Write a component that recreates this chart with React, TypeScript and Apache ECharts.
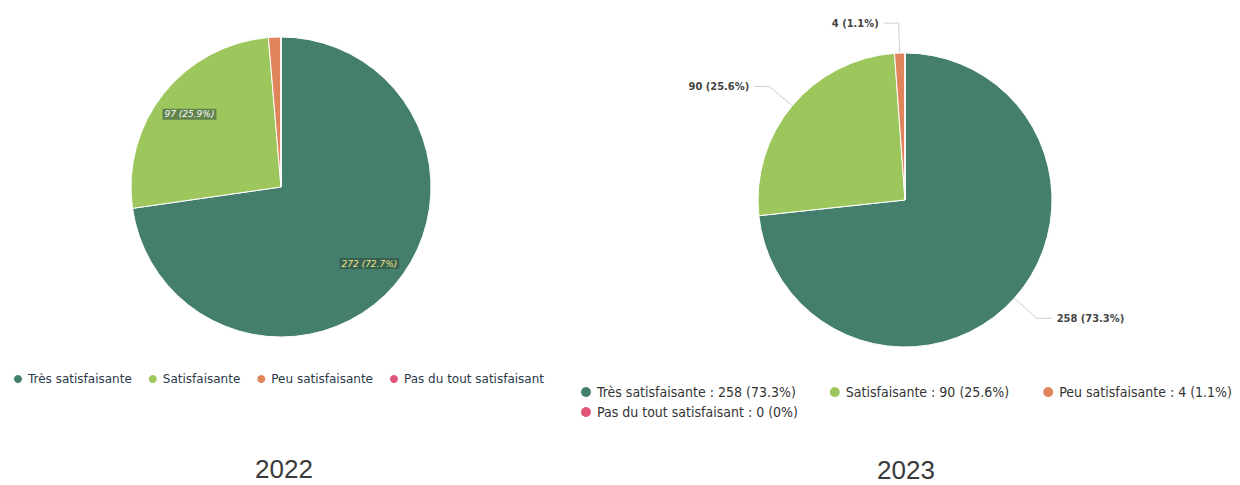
import React, { useEffect, useRef } from "react";
import * as echarts from "echarts";

const categories = ["Très satisfaisante", "Satisfaisante", "Peu satisfaisante", "Pas du tout satisfaisant"];
const values2022 = [272, 97, 5, 0];
const values2023 = [258, 90, 4, 0];
const years = ["2022", "2023"];
const colors = ["#437f6c", "#9dc65c", "#e0845c", "#e2537a"];

const total = (arr: number[]) => arr.reduce((a, b) => a + b, 0);
const pct = (v: number, arr: number[]) => (v === 0 ? "0" : ((v / total(arr)) * 100).toFixed(1));

export default function App() {
  const ref = useRef<HTMLDivElement>(null);
  useEffect(() => {
    if (!ref.current) return;
    const chart = echarts.init(ref.current, undefined, { renderer: "svg" });
    const data2022 = categories.map((name, i) => ({ name, value: values2022[i] }));
    const ghost2022 = categories.map((name, i) => ({
      name,
      value: values2022[i],
      label: {
        show: i < 2,
        color: i === 0 ? "#efe38a" : "#ffffff",
      },
    }));
    const data2023 = categories.map((name, i) => ({
      name,
      value: values2023[i],
      label: { show: values2023[i] > 0 },
      labelLine: { show: values2023[i] > 0 },
    }));
    const fmt2023 = (name: string) => {
      const i = categories.indexOf(name);
      return `${name} : ${values2023[i]} (${pct(values2023[i], values2023)}%)`;
    };
    chart.setOption({
      animation: false,
      color: colors,
      legend: [
        {
          left: 7,
          top: 368,
          icon: "circle",
          itemWidth: 10,
          itemHeight: 10,
          itemGap: 15,
          data: categories,
          textStyle: { fontSize: 12, color: "#2b3a4a", fontFamily: "DejaVu Sans" },
        },
        {
          left: 574,
          top: 380,
          icon: "circle",
          itemWidth: 12,
          itemHeight: 12,
          itemGap: 32,
          data: categories.slice(0, 3),
          formatter: fmt2023,
          textStyle: { fontSize: 14, color: "#333", fontFamily: "DejaVu Sans Condensed" },
        },
        {
          left: 574,
          top: 400,
          icon: "circle",
          itemWidth: 12,
          itemHeight: 12,
          data: categories.slice(3),
          formatter: fmt2023,
          textStyle: { fontSize: 14, color: "#333", fontFamily: "DejaVu Sans Condensed" },
        },
      ],
      graphic: [
        {
          type: "text",
          x: 284,
          y: 469,
          style: {
            text: years[0],
            textAlign: "center",
            textVerticalAlign: "middle",
            fontSize: 26,
            fill: "#3a3a3a",
            fontFamily: "Liberation Sans",
          },
        },
        {
          type: "text",
          x: 906,
          y: 470,
          style: {
            text: years[1],
            textAlign: "center",
            textVerticalAlign: "middle",
            fontSize: 26,
            fill: "#3a3a3a",
            fontFamily: "Liberation Sans",
          },
        },
      ],
      series: [
        {
          type: "pie",
          center: [281, 187],
          radius: [0, 150],
          startAngle: 90,
          label: { show: false },
          labelLine: { show: false },
          itemStyle: { borderColor: "#fff", borderWidth: 1 },
          data: data2022,
        },
        {
          type: "pie",
          center: [281, 187],
          radius: [0, 228],
          startAngle: 90,
          silent: true,
          legendHoverLink: false,
          itemStyle: { color: "rgba(0,0,0,0)" },
          label: {
            position: "inside",
            fontSize: 9,
            fontStyle: "italic",
            fontFamily: "DejaVu Sans",
            backgroundColor: "rgba(45,75,62,0.55)",
            padding: [1, 2],
            formatter: (p: any) => `${p.value} (${pct(p.value, values2022)}%)`,
          },
          labelLine: { show: false },
          data: ghost2022,
        },
        {
          type: "pie",
          center: [905, 200],
          radius: [0, 147],
          startAngle: 90,
          itemStyle: { borderColor: "#fff", borderWidth: 1 },
          label: {
            position: "outside",
            fontSize: 11,
            fontWeight: "bold",
            color: "#444",
            fontFamily: "DejaVu Sans Condensed",
            formatter: (p: any) => `${p.value} (${pct(p.value, values2023)}%)`,
          },
          labelLine: { length: 30, length2: 15, lineStyle: { color: "#d0d0d0", width: 1 } },
          data: data2023,
        },
      ],
    });
    return () => chart.dispose();
  }, []);
  return (
    <div
      ref={ref}
      style={{ position: "fixed", left: 0, top: 0, width: 1240, height: 485, background: "#fff" }}
    />
  );
}
